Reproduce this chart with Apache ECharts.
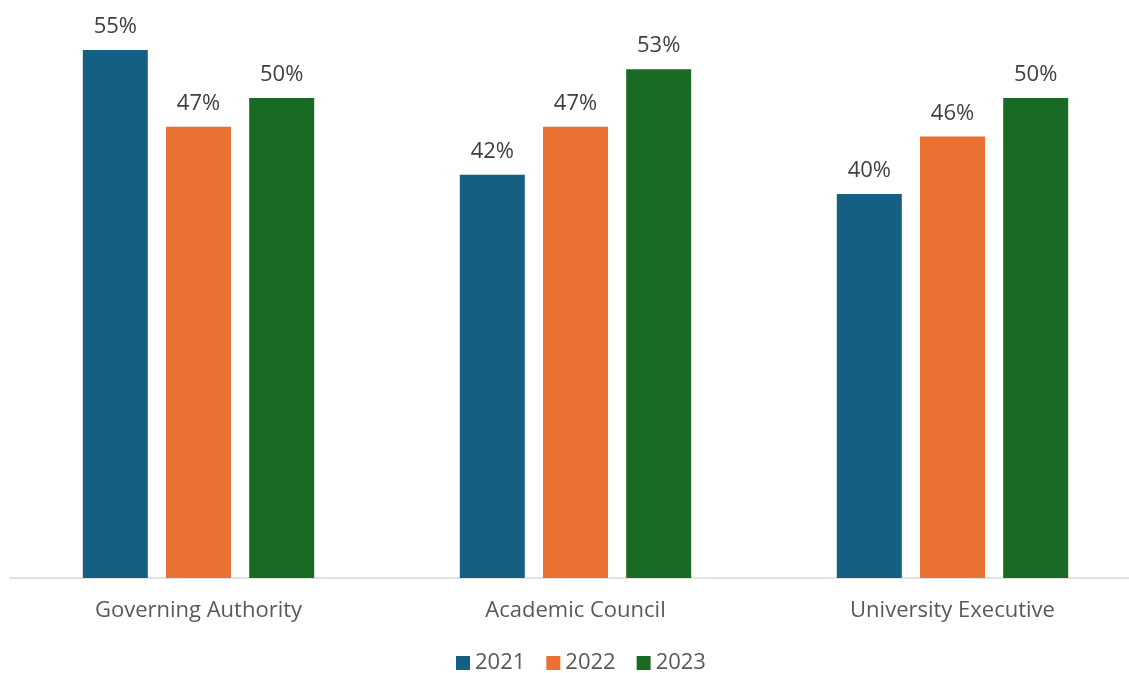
<!DOCTYPE html>
<html>
<head>
<meta charset="utf-8">
<script src="https://cdn.jsdelivr.net/npm/echarts@6/dist/echarts.min.js"></script>
<style>
  html, body { margin: 0; padding: 0; background: #fff; }
  #chart { width: 1129px; height: 673px; }
</style>
</head>
<body>
<div id="chart"></div>
<script>
// Share of women in each governance body, by year (%)
const categories = ['Governing Authority', 'Academic Council', 'University Executive'];
const years = ['2021', '2022', '2023'];
const values2021 = [55, 42, 40];
const values2022 = [47, 47, 46];
const values2023 = [50, 53, 50];
const colors = ['#156082', '#E97132', '#196B24'];

const seriesValues = [values2021, values2022, values2023];
const font = '"Open Sans", Roboto, "Liberation Sans", sans-serif';

const chart = echarts.init(document.getElementById('chart'), null, { renderer: 'canvas' });
chart.setOption({
  animation: false,
  textStyle: { fontFamily: font },
  grid: { left: 10, width: 1131, top: 2, bottom: 95, containLabel: false, outerBoundsMode: 'none' },
  legend: {
    bottom: -6,
    left: 451,
    itemWidth: 14,
    itemHeight: 14,
    itemGap: 21,
    icon: 'rect',
    textStyle: { color: '#595959', fontSize: 22, fontFamily: font },
    data: years
  },
  xAxis: {
    type: 'category',
    data: categories,
    axisLine: { lineStyle: { color: '#D9D9D9', width: 1.5 } },
    axisTick: { show: false },
    axisLabel: { color: '#595959', fontSize: 22, margin: 22, fontFamily: font }
  },
  yAxis: {
    type: 'value',
    min: 0,
    max: 60,
    show: false,
    splitLine: { show: false }
  },
  series: years.map((y, i) => ({
    name: y,
    type: 'bar',
    data: seriesValues[i],
    barWidth: 65,
    barGap: '28%',
    itemStyle: { color: colors[i] },
    label: {
      show: true,
      position: 'top',
      distance: 12,
      formatter: '{c}%',
      color: '#404040',
      fontSize: 22,
      fontFamily: font
    }
  }))
});
</script>
</body>
</html>
